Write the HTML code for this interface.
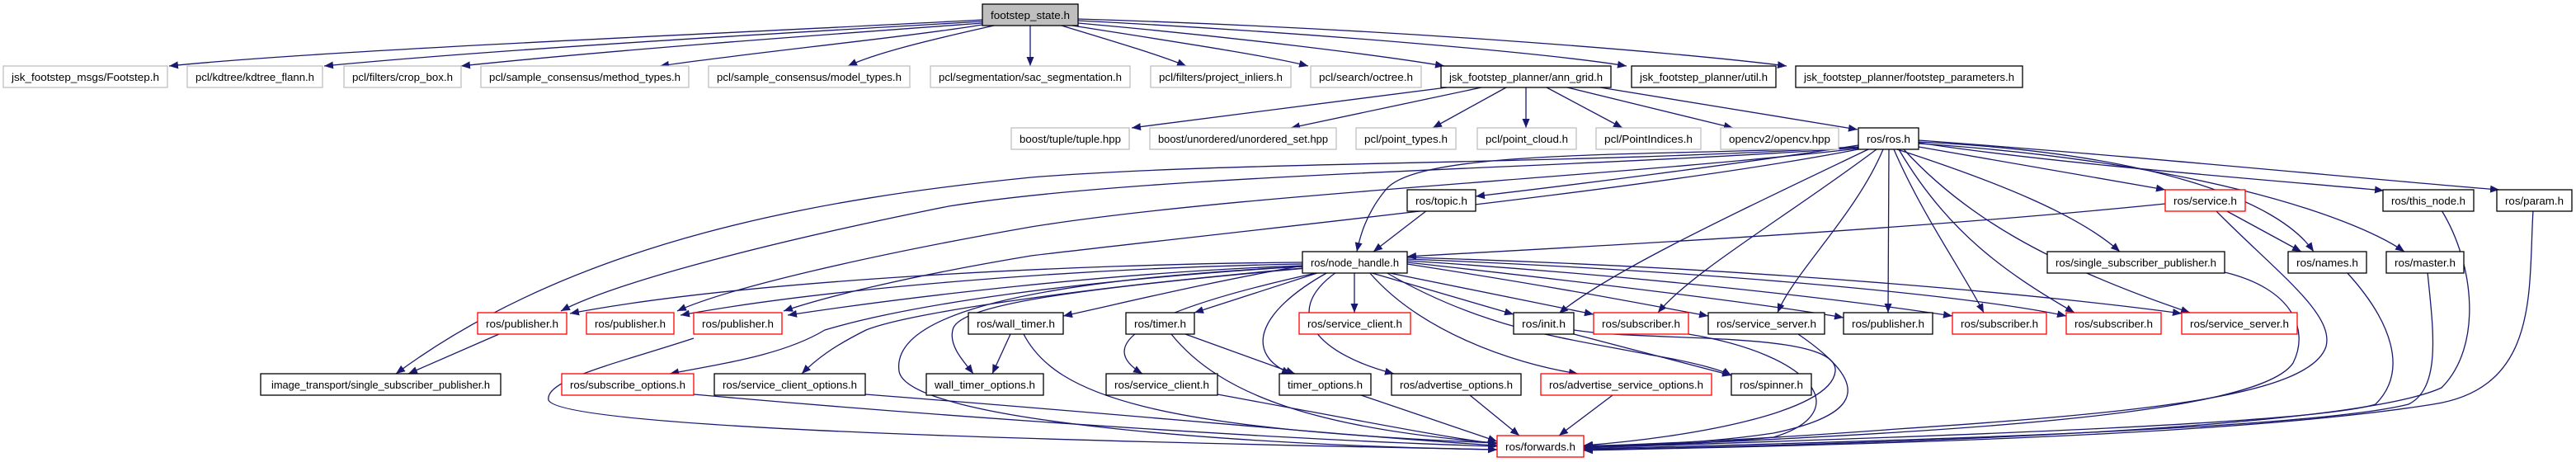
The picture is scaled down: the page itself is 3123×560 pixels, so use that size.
<!DOCTYPE html>
<html><head><meta charset="utf-8"><style>
html,body{margin:0;padding:0;background:#fff;}
svg{display:block;}
text{font-family:"Liberation Sans",sans-serif;font-size:13px;fill:#000;}
.e{fill:none;stroke:#191970;stroke-width:1.3;marker-end:url(#a);}
.g{fill:#fff;stroke:#bfbfbf;stroke-width:1.3;}
.b{fill:#fff;stroke:#000;stroke-width:1.3;}
.r{fill:#fff;stroke:#ff0000;stroke-width:1.3;}
</style></head><body>
<svg width="3123" height="560" viewBox="0 0 3123 560" xmlns="http://www.w3.org/2000/svg">
<defs><marker id="a" markerUnits="userSpaceOnUse" markerWidth="12" markerHeight="10" refX="11" refY="4.5" orient="auto"><path d="M0,0 L11,4.5 L0,9 z" fill="#191970"/></marker></defs>
<g>
<path class="e" d="M1191,24 C900,40 400,60 205,80"/>
<path class="e" d="M1191,26 C950,40 600,60 393,80"/>
<path class="e" d="M1191,28 C1000,42 750,60 559,80"/>
<path class="e" d="M1191,30 C1100,45 900,65 800,80"/>
<path class="e" d="M1205,31 C1120,50 1060,65 1028,80"/>
<path class="e" d="M1249,31 L1249,80"/>
<path class="e" d="M1287,31 C1350,50 1410,68 1438,80"/>
<path class="e" d="M1300,31 C1420,50 1540,68 1586,80"/>
<path class="e" d="M1307,28 C1500,45 1680,68 1751,80"/>
<path class="e" d="M1307,25 C1600,40 1880,65 1972,80"/>
<path class="e" d="M1307,23 C1700,35 2050,65 2166,80"/>

<path class="e" d="M1754,106 L1372,155"/>
<path class="e" d="M1796,106 L1565,155"/>
<path class="e" d="M1826,106 L1737,155"/>
<path class="e" d="M1850,106 L1850,155"/>
<path class="e" d="M1875,106 L1967,155"/>
<path class="e" d="M1900,106 L2101,155"/>
<path class="e" d="M1940,106 L2252,157"/>

<path class="e" d="M2253,176 C2100,200 1900,225 1789,238"/>
<path class="e" d="M2253,178 C2000,190 1720,180 1680,230 C1655,260 1648,290 1645,305"/>
<path class="e" d="M1730,255 L1665,305"/>
<path class="e" d="M2625,247 C2300,280 1900,300 1706,311"/>
<path class="e" d="M2326,178 L2625,230"/>
<path class="e" d="M2326,173 C2500,200 2800,222 2890,231"/>
<path class="e" d="M2326,170 C2600,190 2900,220 3030,230"/>
<path class="e" d="M2326,172 C2600,185 2760,240 2805,305"/>
<path class="e" d="M2698,255 L2790,305"/>
<path class="e" d="M2326,174 C2650,195 2850,260 2915,305"/>
<path class="e" d="M2300,181 C2420,220 2520,260 2570,305"/>
<path class="e" d="M2686,255 C2760,330 2830,380 2820,420 C2800,480 2600,500 2300,520 C2100,535 1950,540 1920,541"/>

<path class="e" d="M2265,181 C2100,260 1950,330 1890,380"/>
<path class="e" d="M2275,181 C2170,260 2050,330 2010,379"/>
<path class="e" d="M2283,181 C2250,260 2175,330 2155,379"/>
<path class="e" d="M2290,181 L2289,379"/>
<path class="e" d="M2296,181 C2330,260 2380,330 2405,379"/>
<path class="e" d="M2302,181 C2360,280 2430,330 2515,379"/>
<path class="e" d="M2308,181 C2380,260 2480,320 2655,379"/>

<path class="e" d="M2697,330 C2780,350 2800,400 2780,440 C2740,500 2400,520 2100,535 C1980,540 1940,541 1920,542"/>
<path class="e" d="M2845,330 C2900,390 2920,450 2880,490 C2800,515 2300,530 1920,543"/>
<path class="e" d="M2943,330 C2950,400 2960,470 2920,490 C2800,520 2300,535 1920,544"/>
<path class="e" d="M2960,255 C3000,320 3010,420 2960,470 C2850,520 2300,538 1920,545"/>
<path class="e" d="M3071,255 C3065,350 3080,470 2950,490 C2700,530 2200,540 1920,546"/>

<path class="e" d="M2253,178 C1900,200 1500,195 1250,215 C1000,240 700,290 480,453"/>
<path class="e" d="M2253,179 C1900,205 1400,210 1150,250 C950,290 750,340 680,377"/>
<path class="e" d="M2253,180 C1950,215 1500,235 1250,275 C1050,310 880,350 821,377"/>
<path class="e" d="M2253,181 C2000,230 1500,280 1250,310 C1100,335 1000,360 950,377"/>
<path class="e" d="M1579,318 C1300,320 900,340 691,380"/>
<path class="e" d="M1579,320 C1300,325 1000,350 825,382"/>
<path class="e" d="M1579,322 C1350,330 1100,360 955,382"/>
<path class="e" d="M605,405 L495,453"/>
<path class="e" d="M841,410 C750,440 660,460 665,485 C680,520 1300,535 1815,545"/>
<path class="e" d="M1579,323 C1300,340 1100,370 1000,400 C950,430 880,440 812,453"/>
<path class="e" d="M1579,325 C1300,350 1100,380 1050,400 C1010,420 990,435 972,453"/>
<path class="e" d="M841,478 C1200,510 1600,535 1815,541"/>
<path class="e" d="M1049,478 C1400,505 1650,530 1815,540"/>
<path class="e" d="M1579,323 C1250,340 1080,380 1090,450 C1100,510 1500,540 1815,545"/>
<path class="e" d="M1579,322 C1450,345 1350,370 1289,383"/>
<path class="e" d="M1600,330 L1448,379"/>
<path class="e" d="M1642,330 L1642,379"/>
<path class="e" d="M1585,325 C1300,350 1160,370 1155,400 C1150,420 1170,440 1180,453"/>
<path class="e" d="M1225,405 L1203,453"/>
<path class="e" d="M1241,405 C1280,480 1400,520 1815,537"/>
<path class="e" d="M1600,330 C1370,380 1330,420 1385,453"/>
<path class="e" d="M1437,405 L1570,453"/>
<path class="e" d="M1420,405 C1480,480 1600,520 1815,537"/>
<path class="e" d="M1610,330 C1520,380 1510,430 1565,453"/>
<path class="e" d="M1620,330 C1550,380 1600,430 1690,453"/>
<path class="e" d="M1660,330 C1720,400 1830,440 1913,453"/>
<path class="e" d="M1680,330 C1800,400 1900,410 2000,430 C2060,440 2090,450 2099,455"/>
<path class="e" d="M1908,405 L2099,455"/>
<path class="e" d="M1908,400 C2000,415 2230,400 2225,450 C2220,500 2050,530 1920,540"/>
<path class="e" d="M2180,405 C2260,460 2270,500 2150,525 C2050,540 1950,540 1920,540"/>
<path class="e" d="M2047,405 C2200,430 2250,500 2150,530 C2050,540 1950,541 1920,541"/>
<path class="e" d="M1476,478 C1650,510 1750,530 1815,538"/>
<path class="e" d="M1650,479 L1815,535"/>
<path class="e" d="M1782,479 L1842,528"/>
<path class="e" d="M1955,479 L1890,528"/>

<path class="e" d="M1660,330 L1835,381"/>
<path class="e" d="M1680,330 L1932,381"/>
<path class="e" d="M1706,320 C1900,350 2000,370 2071,383"/>
<path class="e" d="M1706,318 C1950,345 2150,370 2235,385"/>
<path class="e" d="M1706,316 C2000,335 2250,365 2367,383"/>
<path class="e" d="M1706,314 C2100,330 2400,360 2505,383"/>
<path class="e" d="M1706,312 C2150,325 2500,360 2645,380"/>
</g>

<g text-anchor="middle">
<rect x="1191" y="5" width="116" height="26" fill="#bfbfbf" stroke="#000" stroke-width="1.3"/><text x="1249" y="23" textLength="96" lengthAdjust="spacingAndGlyphs">footstep_state.h</text>

<rect class="g" x="4" y="80" width="199" height="26"/><text x="103.5" y="98" textLength="179" lengthAdjust="spacingAndGlyphs">jsk_footstep_msgs/Footstep.h</text>
<rect class="g" x="227" y="80" width="164" height="26"/><text x="309" y="98" textLength="144" lengthAdjust="spacingAndGlyphs">pcl/kdtree/kdtree_flann.h</text>
<rect class="g" x="417" y="80" width="142" height="26"/><text x="488" y="98" textLength="122" lengthAdjust="spacingAndGlyphs">pcl/filters/crop_box.h</text>
<rect class="g" x="583" y="80" width="252" height="26"/><text x="709" y="98" textLength="232" lengthAdjust="spacingAndGlyphs">pcl/sample_consensus/method_types.h</text>
<rect class="g" x="859" y="80" width="244" height="26"/><text x="981" y="98" textLength="224" lengthAdjust="spacingAndGlyphs">pcl/sample_consensus/model_types.h</text>
<rect class="g" x="1128" y="80" width="242" height="26"/><text x="1249" y="98" textLength="222" lengthAdjust="spacingAndGlyphs">pcl/segmentation/sac_segmentation.h</text>
<rect class="g" x="1395" y="80" width="170" height="26"/><text x="1480" y="98" textLength="150" lengthAdjust="spacingAndGlyphs">pcl/filters/project_inliers.h</text>
<rect class="g" x="1589" y="80" width="134" height="26"/><text x="1656" y="98" textLength="114" lengthAdjust="spacingAndGlyphs">pcl/search/octree.h</text>
<rect class="b" x="1747" y="80" width="206" height="26"/><text x="1850" y="98" textLength="186" lengthAdjust="spacingAndGlyphs">jsk_footstep_planner/ann_grid.h</text>
<rect class="b" x="1978" y="80" width="175" height="26"/><text x="2065.5" y="98" textLength="155" lengthAdjust="spacingAndGlyphs">jsk_footstep_planner/util.h</text>
<rect class="b" x="2177" y="80" width="275" height="26"/><text x="2314.5" y="98" textLength="255" lengthAdjust="spacingAndGlyphs">jsk_footstep_planner/footstep_parameters.h</text>

<rect class="g" x="1226" y="155" width="143" height="26"/><text x="1297.5" y="173" textLength="123" lengthAdjust="spacingAndGlyphs">boost/tuple/tuple.hpp</text>
<rect class="g" x="1394" y="155" width="226" height="26"/><text x="1507" y="173" textLength="206" lengthAdjust="spacingAndGlyphs">boost/unordered/unordered_set.hpp</text>
<rect class="g" x="1644" y="155" width="121" height="26"/><text x="1704.5" y="173" textLength="101" lengthAdjust="spacingAndGlyphs">pcl/point_types.h</text>
<rect class="g" x="1791" y="155" width="120" height="26"/><text x="1851" y="173" textLength="100" lengthAdjust="spacingAndGlyphs">pcl/point_cloud.h</text>
<rect class="g" x="1935" y="155" width="127" height="26"/><text x="1998.5" y="173" textLength="107" lengthAdjust="spacingAndGlyphs">pcl/PointIndices.h</text>
<rect class="g" x="2086" y="155" width="143" height="26"/><text x="2157.5" y="173" textLength="123" lengthAdjust="spacingAndGlyphs">opencv2/opencv.hpp</text>
<rect class="b" x="2253" y="155" width="73" height="26"/><text x="2289.5" y="173" textLength="53" lengthAdjust="spacingAndGlyphs">ros/ros.h</text>

<rect class="b" x="1706" y="230" width="83" height="26"/><text x="1747.5" y="248" textLength="63" lengthAdjust="spacingAndGlyphs">ros/topic.h</text>
<rect class="r" x="2625" y="230" width="97" height="26"/><text x="2673.5" y="248" textLength="77" lengthAdjust="spacingAndGlyphs">ros/service.h</text>
<rect class="b" x="2889" y="230" width="110" height="26"/><text x="2944" y="248" textLength="90" lengthAdjust="spacingAndGlyphs">ros/this_node.h</text>
<rect class="b" x="3027" y="230" width="91" height="26"/><text x="3072.5" y="248" textLength="71" lengthAdjust="spacingAndGlyphs">ros/param.h</text>

<rect class="b" x="1579" y="305" width="127" height="26"/><text x="1642.5" y="323" textLength="107" lengthAdjust="spacingAndGlyphs">ros/node_handle.h</text>
<rect class="b" x="2482" y="305" width="215" height="26"/><text x="2589.5" y="323" textLength="195" lengthAdjust="spacingAndGlyphs">ros/single_subscriber_publisher.h</text>
<rect class="b" x="2774" y="305" width="95" height="26"/><text x="2821.5" y="323" textLength="75" lengthAdjust="spacingAndGlyphs">ros/names.h</text>
<rect class="b" x="2893" y="305" width="94" height="26"/><text x="2940" y="323" textLength="74" lengthAdjust="spacingAndGlyphs">ros/master.h</text>

<rect class="r" x="579" y="379" width="108" height="26"/><text x="633" y="397" textLength="88" lengthAdjust="spacingAndGlyphs">ros/publisher.h</text>
<rect class="r" x="711" y="379" width="106" height="26"/><text x="764" y="397" textLength="86" lengthAdjust="spacingAndGlyphs">ros/publisher.h</text>
<rect class="r" x="841" y="379" width="107" height="26"/><text x="894.5" y="397" textLength="87" lengthAdjust="spacingAndGlyphs">ros/publisher.h</text>
<rect class="b" x="1174" y="379" width="115" height="26"/><text x="1231.5" y="397" textLength="95" lengthAdjust="spacingAndGlyphs">ros/wall_timer.h</text>
<rect class="b" x="1365" y="379" width="83" height="26"/><text x="1406.5" y="397" textLength="63" lengthAdjust="spacingAndGlyphs">ros/timer.h</text>
<rect class="r" x="1575" y="379" width="135" height="26"/><text x="1642.5" y="397" textLength="115" lengthAdjust="spacingAndGlyphs">ros/service_client.h</text>
<rect class="b" x="1835" y="379" width="73" height="26"/><text x="1871.5" y="397" textLength="53" lengthAdjust="spacingAndGlyphs">ros/init.h</text>
<rect class="r" x="1932" y="379" width="115" height="26"/><text x="1989.5" y="397" textLength="95" lengthAdjust="spacingAndGlyphs">ros/subscriber.h</text>
<rect class="b" x="2071" y="379" width="141" height="26"/><text x="2141.5" y="397" textLength="121" lengthAdjust="spacingAndGlyphs">ros/service_server.h</text>
<rect class="b" x="2235" y="379" width="108" height="26"/><text x="2289" y="397" textLength="88" lengthAdjust="spacingAndGlyphs">ros/publisher.h</text>
<rect class="r" x="2367" y="379" width="114" height="26"/><text x="2424" y="397" textLength="94" lengthAdjust="spacingAndGlyphs">ros/subscriber.h</text>
<rect class="r" x="2505" y="379" width="115" height="26"/><text x="2562.5" y="397" textLength="95" lengthAdjust="spacingAndGlyphs">ros/subscriber.h</text>
<rect class="r" x="2645" y="379" width="140" height="26"/><text x="2715" y="397" textLength="120" lengthAdjust="spacingAndGlyphs">ros/service_server.h</text>

<rect class="b" x="316" y="453" width="291" height="26"/><text x="461.5" y="471" textLength="265" lengthAdjust="spacingAndGlyphs">image_transport/single_subscriber_publisher.h</text>
<rect class="r" x="681" y="453" width="160" height="26"/><text x="761" y="471" textLength="140" lengthAdjust="spacingAndGlyphs">ros/subscribe_options.h</text>
<rect class="b" x="866" y="453" width="183" height="26"/><text x="957.5" y="471" textLength="163" lengthAdjust="spacingAndGlyphs">ros/service_client_options.h</text>
<rect class="b" x="1123" y="453" width="142" height="26"/><text x="1194" y="471" textLength="122" lengthAdjust="spacingAndGlyphs">wall_timer_options.h</text>
<rect class="b" x="1341" y="453" width="135" height="26"/><text x="1408.5" y="471" textLength="115" lengthAdjust="spacingAndGlyphs">ros/service_client.h</text>
<rect class="b" x="1551" y="453" width="111" height="26"/><text x="1606.5" y="471" textLength="91" lengthAdjust="spacingAndGlyphs">timer_options.h</text>
<rect class="b" x="1687" y="453" width="157" height="26"/><text x="1765.5" y="471" textLength="137" lengthAdjust="spacingAndGlyphs">ros/advertise_options.h</text>
<rect class="r" x="1868" y="453" width="207" height="26"/><text x="1971.5" y="471" textLength="187" lengthAdjust="spacingAndGlyphs">ros/advertise_service_options.h</text>
<rect class="b" x="2099" y="453" width="97" height="26"/><text x="2147.5" y="471" textLength="77" lengthAdjust="spacingAndGlyphs">ros/spinner.h</text>

<rect class="r" x="1815" y="528" width="105" height="26"/><text x="1867.5" y="546" textLength="85" lengthAdjust="spacingAndGlyphs">ros/forwards.h</text>
</g>
</svg>
</body></html>
